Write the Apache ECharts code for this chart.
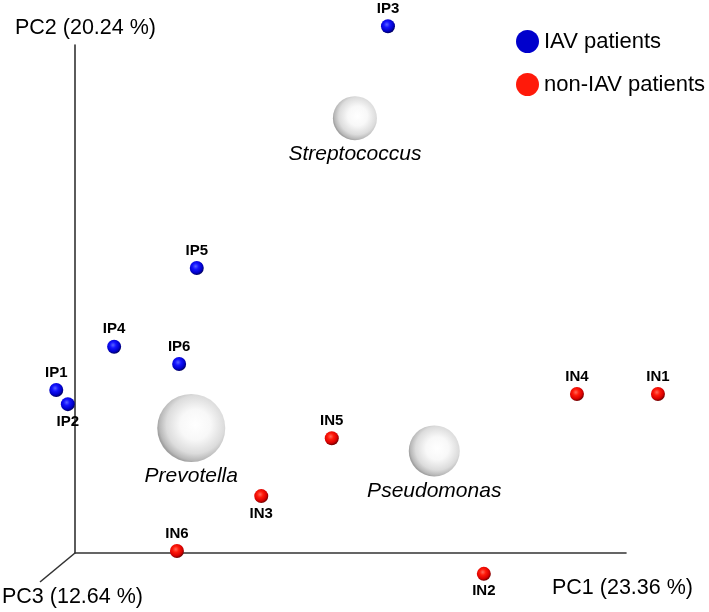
<!DOCTYPE html>
<html>
<head>
<meta charset="utf-8">
<script src="https://cdn.jsdelivr.net/npm/echarts@6/dist/echarts.min.js"></script>
<style>html,body{margin:0;padding:0;background:#fff}#c{width:709px;height:612px}</style>
</head>
<body>
<div id="c"></div>
<script>
// Projected PCoA coordinates (PC1 horizontal, PC2 vertical; arbitrary units, axes 0..100)
const iavNames = ['IP1','IP2','IP3','IP4','IP5','IP6'];
const iavX     = [-3.4, -1.3, 56.8, 7.1, 22.1, 18.9];
const iavY     = [32.1, 29.3, 103.7, 40.6, 56.1, 37.2];
const iavLabelPos = ['top','bottom','top','top','top','top'];

const nonNames = ['IN1','IN2','IN3','IN4','IN5','IN6'];
const nonX     = [105.8, 74.2, 33.8, 91.1, 46.6, 18.5];
const nonY     = [31.3, -4.1, 11.2, 31.3, 22.6, 0.4];
const nonLabelPos = ['top','bottom','bottom','top','top','top'];

const taxaNames = ['Streptococcus','Prevotella','Pseudomonas'];
const taxaX     = [50.8, 21.1, 65.2];
const taxaY     = [85.6, 24.6, 20.1];
const taxaSize  = [44, 68, 51];

const axisNames = ['PC1 (23.36 %)','PC2 (20.24 %)','PC3 (12.64 %)'];
const legendNames = ['IAV patients','non-IAV patients'];

const FONT = '"Liberation Sans", Arial, sans-serif';

function ball(c0, c1, c2, c3) {
  return {type:'radial', x:0.42, y:0.38, r:0.62,
    colorStops:[{offset:0,color:c0},{offset:0.35,color:c1},{offset:0.75,color:c2},{offset:1,color:c3}]};
}
const blueBall = ball('#5a64ff','#1414ff','#0000c8','#000060');
const redBall  = ball('#ff6a5a','#ff1a0a','#d80000','#700000');
const whiteBall = {type:'radial', x:0.56, y:0.45, r:0.56,
  colorStops:[{offset:0,color:'#ffffff'},{offset:0.4,color:'#f8f8f8'},{offset:0.76,color:'#dcdcdc'},{offset:0.94,color:'#b8b8b8'},{offset:1,color:'#a0a0a0'}]};

function pts(names, xs, ys, pos) {
  return names.map((n,i)=>({name:n, value:[xs[i], ys[i]], label:{position:pos[i]}}));
}

const chart = echarts.init(document.getElementById('c'), null, {renderer:'canvas'});
const option = {
  animation:false,
  backgroundColor:'#ffffff',
  grid:{left:75, right:83, top:45, bottom:59},
  xAxis:{type:'value', min:0, max:100, axisLine:{show:true, onZero:false, lineStyle:{color:'#333', width:1.6}},
    axisTick:{show:false}, axisLabel:{show:false}, splitLine:{show:false}},
  yAxis:{type:'value', min:0, max:100, axisLine:{show:true, onZero:false, lineStyle:{color:'#333', width:1.6}},
    axisTick:{show:false}, axisLabel:{show:false}, splitLine:{show:false}},
  legend:{
    orient:'vertical', left:511, top:25, itemWidth:23, itemHeight:23, itemGap:20,
    icon:'circle', selectedMode:false,
    textStyle:{fontFamily:FONT, fontSize:22, color:'#000'},
    data:[{name:legendNames[0], itemStyle:{color:'#0000cc'}},{name:legendNames[1], itemStyle:{color:'#ff1a0a'}}]
  },
  series:[
    {name:'taxa', type:'scatter', clip:false, z:1,
     data:taxaNames.map((n,i)=>({name:n, value:[taxaX[i],taxaY[i]], symbolSize:taxaSize[i]})),
     itemStyle:{color:whiteBall, opacity:1},
     label:{show:true, formatter:'{b}', position:'bottom', distance:4,
       fontFamily:FONT, fontSize:21, fontStyle:'italic', color:'#000', textBorderWidth:0},
     emphasis:{disabled:true}},
    {name:legendNames[0], type:'scatter', clip:false, z:3, symbolSize:14,
     data:pts(iavNames, iavX, iavY, iavLabelPos),
     itemStyle:{color:blueBall, opacity:1},
     label:{show:true, formatter:'{b}', distance:3, fontFamily:FONT, fontSize:15, fontWeight:'bold', color:'#000', textBorderWidth:0},
     emphasis:{disabled:true}},
    {name:legendNames[1], type:'scatter', clip:false, z:3, symbolSize:14,
     data:pts(nonNames, nonX, nonY, nonLabelPos),
     itemStyle:{color:redBall, opacity:1},
     label:{show:true, formatter:'{b}', distance:3, fontFamily:FONT, fontSize:15, fontWeight:'bold', color:'#000', textBorderWidth:0},
     emphasis:{disabled:true}}
  ]
};
chart.setOption(option);

// Axis names and the receding PC3 axis, anchored to the plot origin
const pO = chart.convertToPixel({gridIndex:0}, [0,0]);
const pTop = chart.convertToPixel({gridIndex:0}, [0,100]);
const pRight = chart.convertToPixel({gridIndex:0}, [100,0]);
chart.setOption({
  graphic:[
    {type:'line', shape:{x1:pO[0], y1:pO[1], x2:pO[0]-35, y2:pO[1]+29}, style:{stroke:'#333', lineWidth:1.6}},
    {type:'text', x:pTop[0]-60, y:pTop[1]-17, style:{text:axisNames[1], font:'21.5px '+FONT, fill:'#000', verticalAlign:'middle'}},
    {type:'text', x:pRight[0]-74, y:pO[1]+35, style:{text:axisNames[0], font:'21.5px '+FONT, fill:'#000', verticalAlign:'middle'}},
    {type:'text', x:pO[0]-73, y:pO[1]+44, style:{text:axisNames[2], font:'21.5px '+FONT, fill:'#000', verticalAlign:'middle'}}
  ]
});
</script>
</body>
</html>
